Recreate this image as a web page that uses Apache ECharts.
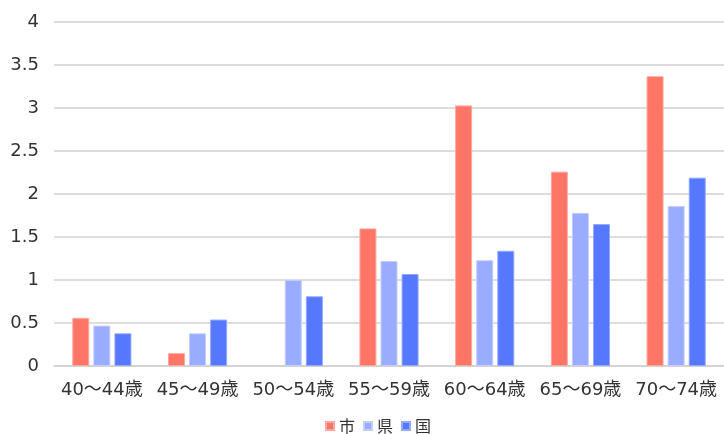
<!DOCTYPE html>
<html>
<head>
<meta charset="utf-8">
<script src="https://cdn.jsdelivr.net/npm/echarts@6/dist/echarts.min.js"></script>
<style>
html,body{margin:0;padding:0;background:#fff;}
#chart{width:724px;height:434px;}
</style>
</head>
<body>
<div id="chart"></div>
<script>
// Age groups on the x axis
const categories = ['40～44歳', '45～49歳', '50～54歳', '55～59歳', '60～64歳', '65～69歳', '70～74歳'];
// Series: city, prefecture, nation
const seriesNames = ['市', '県', '国'];
const cityValues = [0.56, 0.15, 0, 1.60, 3.03, 2.26, 3.37];
const prefValues = [0.47, 0.38, 1.00, 1.22, 1.23, 1.78, 1.86];
const nationValues = [0.38, 0.54, 0.81, 1.07, 1.34, 1.65, 2.19];
const yTicks = [0, 0.5, 1, 1.5, 2, 2.5, 3, 3.5, 4];

const font = '"DejaVu Sans", "Noto Sans CJK JP", sans-serif';
const colors = ['#FF7566', '#9AACFF', '#5677FF'];
const borders = ['#FFA89F', '#C3CEFF', '#93A8FF'];

function bar(name, data, i) {
  return {
    name: name,
    type: 'bar',
    data: data.map(v => v === 0 ? null : v),
    barWidth: 17,
    barGap: '24%',
    itemStyle: { color: colors[i], borderColor: borders[i], borderWidth: 1 }
  };
}

const chart = echarts.init(document.getElementById('chart'), null, { renderer: 'canvas' });
chart.setOption({
  animation: false,
  textStyle: { fontFamily: font },
  color: colors,
  grid: { left: 54, right: -2, top: 22, bottom: 68 },
  legend: {
    data: seriesNames,
    top: 417,
    left: 325,
    padding: 0,
    itemWidth: 8,
    itemHeight: 8,
    itemGap: 8,
    icon: 'rect',
    textStyle: { fontSize: 16, lineHeight: 18, color: '#333', fontFamily: '"Noto Sans CJK JP", sans-serif' }
  },
  xAxis: {
    type: 'category',
    data: categories,
    axisTick: { show: false },
    axisLine: { lineStyle: { color: '#cfcfcf', width: 1.5 } },
    axisLabel: { fontSize: 18, color: '#333', margin: 15, fontFamily: font, interval: 0 }
  },
  yAxis: {
    type: 'value',
    min: yTicks[0],
    max: yTicks[yTicks.length - 1],
    interval: 0.5,
    axisLine: { show: false },
    axisTick: { show: false },
    splitLine: { lineStyle: { color: '#d2d2d2', width: 1.5 } },
    axisLabel: { fontSize: 18, color: '#333', margin: 15, fontFamily: font }
  },
  series: [
    bar(seriesNames[0], cityValues, 0),
    bar(seriesNames[1], prefValues, 1),
    bar(seriesNames[2], nationValues, 2)
  ]
});
</script>
</body>
</html>
